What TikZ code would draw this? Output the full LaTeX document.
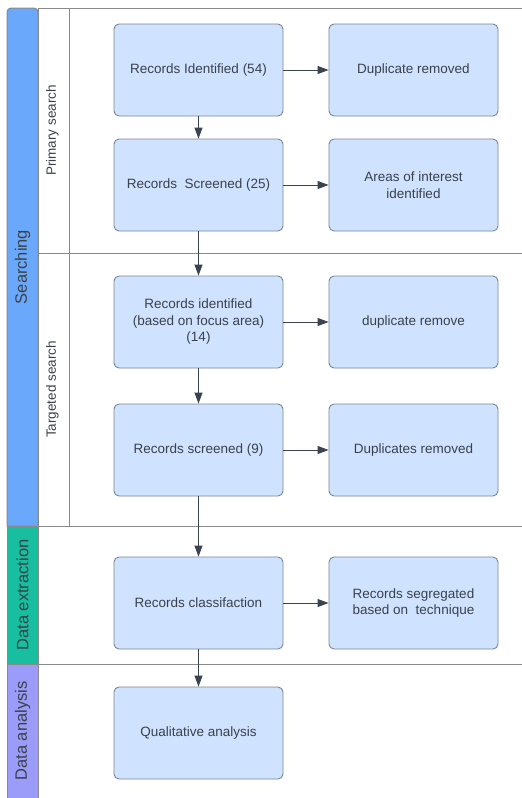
\documentclass[tikz,border=0pt]{standalone}
\usepackage{fontspec}
\setmainfont{Liberation Sans}
\usetikzlibrary{arrows.meta}
\definecolor{boxfill}{HTML}{CFE2FF}
\definecolor{boxline}{HTML}{7A8594}
\definecolor{txt}{HTML}{3A414A}
\definecolor{laneline}{HTML}{8A8A8A}
\definecolor{searchblue}{HTML}{6AA8FB}
\definecolor{extractteal}{HTML}{17BE9F}
\definecolor{analysispurple}{HTML}{9B9BFA}
\definecolor{arrowcol}{HTML}{3B4250}
\begin{document}
\begin{tikzpicture}[x=1pt,y=-1pt,
  stepbox/.style={draw=boxline, fill=boxfill, line width=0.9pt, rounded corners=5pt,
    minimum width=169pt, minimum height=92pt, align=center, text=txt,
    font=\fontsize{13.5}{16.5}\selectfont, inner sep=2pt},
  lanelabel/.style={rotate=90, text=txt, font=\fontsize{13.5}{16}\selectfont, inner sep=0pt},
  biglabel/.style={rotate=90, text=txt, font=\fontsize{16.5}{19}\selectfont, inner sep=0pt},
  lane/.style={draw=laneline, line width=1pt},
  flow/.style={draw=arrowcol, line width=0.9pt, -{Triangle[length=11pt,width=8pt]}}]
\useasboundingbox (0,0) rectangle (522,798);
% lane bars
\path[fill=searchblue, draw=laneline, line width=1pt] (7,526) [rounded corners=4pt] -- (7,8) -- (38,8) [sharp corners] -- (38,526) -- cycle;
\path[fill=extractteal, draw=laneline, line width=1pt] (7,526) rectangle (38,664);
\path[fill=analysispurple, draw=laneline, line width=1pt] (7,664) rectangle (38,798);
% lane lines
\draw[lane] (38,8) -- (522,8);
\draw[lane] (38,253) -- (522,253);
\draw[lane] (38,526) -- (522,526);
\draw[lane] (38,664) -- (522,664);
\draw[lane] (69,8) -- (69,526);
\draw[lane] (38,8) -- (38,798);
% lane labels
\node[biglabel] (searching) at (22.5,267) {Searching};
\node[biglabel] (extraction) at (22.5,595) {Data extraction};
\node[biglabel] (analysis) at (22.5,731) {Data analysis};
\node[lanelabel] (primary) at (52.5,130.5) {Primary search};
\node[lanelabel] (targeted) at (52.5,389.5) {Targeted search};
% boxes
\node[stepbox] (b1) at (198.5,70) {Records Identified (54)};
\node[stepbox] (d1) at (413.5,70) {Duplicate removed};
\node[stepbox] (b2) at (198.5,185) {Records\ \ Screened (25)};
\node[stepbox] (d2) at (413.5,185) {Areas of interest\\identified};
\node[stepbox] (b3) at (198.5,322) {Records identified\\(based on focus area)\\(14)};
\node[stepbox] (d3) at (413.5,322) {duplicate remove};
\node[stepbox] (b4) at (198.5,450) {Records screened (9)};
\node[stepbox] (d4) at (413.5,450) {Duplicates removed};
\node[stepbox] (b5) at (198.5,603) {Records classifaction};
\node[stepbox] (d5) at (413.5,603) {Records segregated\\based on\ \ technique};
\node[stepbox] (b6) at (198.5,733) {Qualitative analysis};
% arrows
\draw[flow] (b1) -- (d1);
\draw[flow] (b2) -- (d2);
\draw[flow] (b3) -- (d3);
\draw[flow] (b4) -- (d4);
\draw[flow] (b5) -- (d5);
\draw[flow] (b1) -- (b2);
\draw[flow] (b2) -- (b3);
\draw[flow] (b3) -- (b4);
\draw[flow] (b4) -- (b5);
\draw[flow] (b5) -- (b6);
\end{tikzpicture}
\end{document}
